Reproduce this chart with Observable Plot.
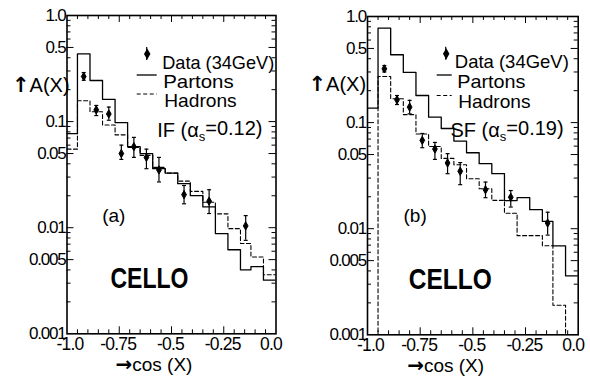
<!DOCTYPE html>
<html><head><meta charset="utf-8">
<script src="https://cdn.jsdelivr.net/npm/d3@7"></script>
<script src="https://cdn.jsdelivr.net/npm/@observablehq/plot@0.6"></script>
<style>
body{margin:0;background:#fff;}
#wrap{display:flex;width:590px;height:379px;}
#wrap svg{flex:none;}
</style></head><body><div id="wrap"></div>
<script>
// ---- data ----
const binEdges = [-1.0, -0.95, -0.89, -0.83, -0.77, -0.71, -0.65, -0.59, -0.53, -0.47, -0.41, -0.35, -0.29, -0.23, -0.17, -0.12, -0.06, 0.0];
const partonsA = [0.077, 0.435, 0.244, 0.162, 0.098, 0.058, 0.050, 0.036, 0.0327, 0.026, 0.0201, 0.0157, 0.0088, 0.0062, 0.0040, 0.0043, 0.0032];
const hadronsA = [0.055, 0.157, 0.124, 0.093, 0.075, 0.057, 0.048, 0.037, 0.0327, 0.0275, 0.022, 0.0174, 0.0135, 0.0098, 0.0071, 0.0053, 0.0036];
const partonsB = [0.137, 0.776, 0.436, 0.297, 0.18, 0.1125, 0.088, 0.067, 0.052, 0.041, 0.033, 0.0184, 0.0196, 0.0151, 0.0117, 0.0069, 0.0036];
const hadronsB = [0.0005, 0.272, 0.168, 0.119, 0.078, 0.0595, 0.046, 0.040, 0.0296, 0.0238, 0.0185, 0.014, 0.0086, 0.0086, 0.0069, 0.0019, 0.0005];
const dataCos = [-0.92, -0.86, -0.80, -0.74, -0.68, -0.62, -0.56, -0.44, -0.32, -0.145];
const dataA  = [0.266, 0.129, 0.118, 0.050, 0.058, 0.046, 0.035, 0.0205, 0.0178, 0.0104];
const errLoA = [0.245, 0.114, 0.103, 0.044, 0.046, 0.036, 0.027, 0.0168, 0.0136, 0.0076];
const errHiA = [0.290, 0.142, 0.137, 0.060, 0.071, 0.055, 0.046, 0.025, 0.0228, 0.013];
const dataB  = [0.321, 0.164, 0.140, 0.068, 0.0563, 0.0416, 0.0348, 0.0233, 0.0198, 0.0113];
const errLoB = [0.300, 0.148, 0.121, 0.058, 0.045, 0.033, 0.026, 0.0196, 0.016, 0.0087];
const errHiB = [0.345, 0.180, 0.162, 0.079, 0.065, 0.051, 0.042, 0.0275, 0.0229, 0.0143];
const yTicks = [1, 0.5, 0.1, 0.05, 0.01, 0.005, 0.001];
const yTickLabels = ["1.0", "0.5", "0.1", "0.05", "0.01", "0.005", "0.001"];
const yMajorTicks = [0.5, 0.1, 0.05, 0.01, 0.005];
const yMinorTicks = [0.002, 0.003, 0.004, 0.006, 0.007, 0.008, 0.009, 0.02, 0.03, 0.04, 0.06, 0.07, 0.08, 0.09, 0.2, 0.3, 0.4, 0.6, 0.7, 0.8, 0.9];
const xTicks = [-1, -0.75, -0.5, -0.25, 0];
const xTickLabels = ["-1.0", "-0.75", "-0.5", "-0.25", "0.0"];
const xMajorTicks = [-0.75, -0.5, -0.25];
const xMinorTicks = [-0.95, -0.9, -0.85, -0.8, -0.7, -0.65, -0.6, -0.55, -0.45, -0.4, -0.35, -0.3, -0.2, -0.15, -0.1, -0.05];
const legendLabels = ["Data (34GeV)", "Partons", "Hadrons"];
const modelLabelA = "IF (αs=0.12)";
const modelLabelB = "SF (αs=0.19)";
const yTitle = "↑A(X)";
const xTitle = "→cos (X)";

// ---- drawing ----
const FONT = "'Liberation Sans', Arial, sans-serif";
function steps(values) {
  const pts = [];
  values.forEach((v, i) => { pts.push({x: binEdges[i], y: v}); pts.push({x: binEdges[i + 1], y: v}); });
  return pts;
}
const capSymbol = {draw(ctx, size) { const w = Math.sqrt(size / Math.PI); ctx.moveTo(-w, 0); ctx.lineTo(w, 0); }};

function panel(cfg) {
  const W = 295, H = 379;
  const fw = W - cfg.ml - cfg.mr, fh = H - cfg.mt - cfg.mb;
  const pts = dataCos.map((x, i) => ({x, y: cfg.data[i], lo: cfg.lo[i], hi: cfg.hi[i]}));
  const T = (str, o) => Plot.text([str], {text: d => d, frameAnchor: o.anchor || "top-left", textAnchor: o.ta || "start",
    dx: o.dx, dy: o.dy, fontSize: o.fs, fontWeight: o.fw || "normal", fontFamily: FONT, fill: "black"});
  const xLab = (filter, dx) => Plot.text(xTicks, {filter, x: d => d, text: d => xTickLabels[xTicks.indexOf(d)],
    frameAnchor: "bottom", lineAnchor: "top", dy: 4, dx, fontSize: 17.5, fill: "black"});
  const last = xTicks.length - 1;
  const svg = Plot.plot({
    width: W, height: H,
    marginLeft: cfg.ml, marginRight: cfg.mr, marginTop: cfg.mt, marginBottom: cfg.mb,
    style: {fontFamily: FONT, background: "white", overflow: "visible", color: "black"},
    x: {domain: [-1, 0], label: null, axis: null},
    y: {type: "log", domain: [0.001, 1], label: null, axis: null},
    marks: [
      Plot.line(steps(cfg.partons), {x: "x", y: "y", stroke: "black", strokeWidth: 1.3, clip: true}),
      Plot.line(steps(cfg.hadrons), {x: "x", y: "y", stroke: "black", strokeWidth: 1.1, strokeDasharray: "4,2.5", clip: true}),
      Plot.ruleX(pts, {x: "x", y1: "lo", y2: "hi", stroke: "black", strokeWidth: 1.2}),
      Plot.dot(pts, {x: "x", y: "lo", symbol: capSymbol, r: 2, stroke: "black", strokeWidth: 1.2}),
      Plot.dot(pts, {x: "x", y: "hi", symbol: capSymbol, r: 2, stroke: "black", strokeWidth: 1.2}),
      Plot.dot(pts, {x: "x", y: "y", symbol: "diamond", r: 2.5, fill: "black", stroke: "black", strokeWidth: 1}),
      Plot.frame({stroke: "black", strokeWidth: 1.6}),
      Plot.tickY(yMinorTicks, {y: d => d, insetRight: fw - 4, stroke: "black"}),
      Plot.tickY(yMajorTicks, {y: d => d, insetRight: fw - 7, stroke: "black"}),
      Plot.tickY(yMinorTicks, {y: d => d, insetLeft: fw - 4, stroke: "black"}),
      Plot.tickY(yMajorTicks, {y: d => d, insetLeft: fw - 7, stroke: "black"}),
      Plot.tickX(xMinorTicks, {x: d => d, insetBottom: fh - 4, stroke: "black"}),
      Plot.tickX(xMajorTicks, {x: d => d, insetBottom: fh - 7, stroke: "black"}),
      Plot.tickX(xMinorTicks, {x: d => d, insetTop: fh - 4, stroke: "black"}),
      Plot.tickX(xMajorTicks, {x: d => d, insetTop: fh - 7, stroke: "black"}),
      // tick labels
      Plot.text(yTicks, {y: d => d, text: (d, i) => yTickLabels[i], frameAnchor: "left", textAnchor: "end", dx: -1.5, fontSize: 17, fill: "black"}),
      xLab((d, i) => i === 0, 3),
      xLab((d, i) => i > 0 && i < last, -1),
      xLab((d, i) => i === last, -5),
      // legend
      Plot.dot([0], {frameAnchor: "top-left", dx: cfg.leg.dotX, dy: cfg.leg.y0, symbol: "diamond", r: 2.5, fill: "black", stroke: "black"}),
      T(legendLabels[0], {dx: cfg.leg.tx0, dy: cfg.leg.y0 + 1, fs: 19}),
      T(legendLabels[1], {dx: cfg.leg.tx1, dy: cfg.leg.y1, fs: 19}),
      T(legendLabels[2], {dx: cfg.leg.tx1 + 1, dy: cfg.leg.y2, fs: 19}),
      T(cfg.model, {dx: cfg.leg.mx, dy: cfg.leg.my, fs: 20}),
      T(cfg.tag, {dx: cfg.tagX, dy: cfg.tagY, fs: 19}),
      T("CELLO", {dx: cfg.celloX, dy: cfg.celloY, fs: 30, fw: "bold"}),
      // axis titles
      T(yTitle, {dx: cfg.titleX, dy: cfg.titleY, fs: 20}),
      T(xTitle, {anchor: "bottom-left", dx: cfg.xTitleX, dy: cfg.xTitleDy, fs: 19})
    ]
  });
  const s = d3.select(svg);
  s.selectAll("text").each(function () {
    const txt = this.textContent;
    const w = cfg.widths[txt];
    if (w) { this.setAttribute("textLength", w); this.setAttribute("lengthAdjust", "spacingAndGlyphs"); }
    if (yTickLabels.includes(txt) && !xTickLabels.includes(txt)) this.setAttribute("letter-spacing", "-1.2");
    if (xTickLabels.includes(txt)) this.setAttribute("letter-spacing", "-0.8");
    if (txt === cfg.model) {
      const [pre, post] = cfg.model.split("αs");
      const t = d3.select(this); t.text(null);
      t.append("tspan").text(pre + "α");
      t.append("tspan").attr("font-size", "65%").attr("dy", "0.3em").text("s");
      t.append("tspan").attr("dy", "-0.3em").text(post);
    }
    if (txt === yTitle || txt === xTitle) {
      const t = d3.select(this); t.text(null);
      t.append("tspan").attr("font-family", "'DejaVu Sans', sans-serif").attr("font-weight", "bold").attr("font-size", "105%").text(txt[0]);
      t.append("tspan").text(txt.slice(1));
    }
  });
  const L = cfg.leg;
  const g = s.append("g").attr("stroke", "black").attr("fill", "none");
  g.append("line").attr("x1", cfg.ml + L.dotX).attr("x2", cfg.ml + L.dotX).attr("y1", cfg.mt + L.y0 - 6.5).attr("y2", cfg.mt + L.y0 + 6.5).attr("stroke-width", 1.2);
  g.append("line").attr("x1", cfg.ml + L.lx1).attr("x2", cfg.ml + L.lx2).attr("y1", cfg.mt + L.y1 + 1).attr("y2", cfg.mt + L.y1 + 1).attr("stroke-width", 1.3);
  g.append("line").attr("x1", cfg.ml + L.lx1).attr("x2", cfg.ml + L.lx2).attr("y1", cfg.mt + L.y2 + 1.5).attr("y2", cfg.mt + L.y2 + 1.5).attr("stroke-width", 1.1).attr("stroke-dasharray", "4,2.5");
  return svg;
}

const wrap = document.getElementById("wrap");
wrap.appendChild(panel({
  ml: 66.5, mr: 19.5, mt: 15, mb: 45.7,
  partons: partonsA, hadrons: hadronsA, data: dataA, lo: errLoA, hi: errHiA,
  model: modelLabelA, tag: "(a)",
  leg: {dotX: 80.2, y0: 38.5, tx0: 95.2, tx1: 96.2, y1: 59, y2: 77.5, lx1: 70.2, lx2: 90.2, mx: 90.2, my: 107.5},
  widths: {"Data (34GeV)": 112, "Partons": 70.5, "Hadrons": 72.5, "CELLO": 78},
  tagX: 35.2, tagY: 192.5, celloX: 43.5, celloY: 251,
  titleX: -55, titleY: 62,
  xTitleX: 48.5, xTitleDy: 37
}));
wrap.appendChild(panel({
  ml: 72, mr: 12.3, mt: 16, mb: 44.7,
  partons: partonsB, hadrons: hadronsB, data: dataB, lo: errLoB, hi: errHiB,
  model: modelLabelB, tag: "(b)",
  leg: {dotX: 78.7, y0: 37.3, tx0: 87.3, tx1: 89.7, y1: 58, y2: 78, lx1: 69.7, lx2: 84.7, mx: 83, my: 106.7},
  widths: {"Data (34GeV)": 114, "Partons": 68.3, "Hadrons": 72.3, "CELLO": 83},
  tagX: 36, tagY: 192, celloX: 41.3, celloY: 250.7,
  titleX: -59, titleY: 60,
  xTitleX: 39.7, xTitleDy: 37
}));
</script></body></html>
